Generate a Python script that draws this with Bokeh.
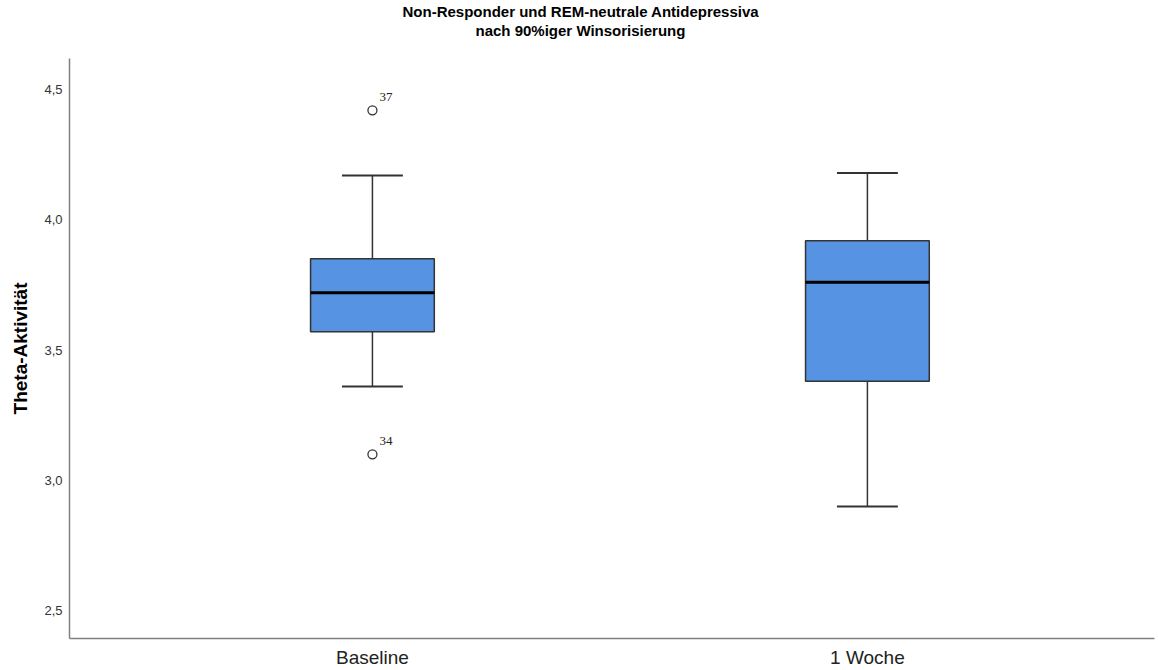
from bokeh.plotting import figure
from bokeh.models import (Title, FixedTicker, CustomJSTickFormatter, ColumnDataSource,
                          Range1d)
from bokeh.embed import file_html
from bokeh.resources import INLINE

# Box plot statistics (Theta-Aktivität) per measurement time
groups = ["Baseline", "1 Woche"]
whisker_low = [3.36, 2.90]
q1 = [3.57, 3.38]
median = [3.72, 3.76]
q3 = [3.85, 3.92]
whisker_high = [4.17, 4.18]

# Outliers: group, value and case number
outlier_group = ["Baseline", "Baseline"]
outlier_values = [4.42, 3.10]
outlier_ids = ["37", "34"]

y_ticks = [2.5, 3.0, 3.5, 4.0, 4.5]

pos = [i + 1 for i in range(len(groups))]
box_width = 0.25
cap_width = 0.123

box_src = ColumnDataSource(dict(
    x=pos, lo=whisker_low, q1=q1, med=median, q3=q3, hi=whisker_high,
    x0=[p - box_width / 2 for p in pos], x1=[p + box_width / 2 for p in pos],
    c0=[p - cap_width / 2 for p in pos], c1=[p + cap_width / 2 for p in pos],
))
out_src = ColumnDataSource(dict(
    x=[pos[groups.index(g)] for g in outlier_group],
    y=outlier_values, label=outlier_ids,
))

p = figure(width=1158, height=670, output_backend="svg", toolbar_location=None,
           title=None,
           x_range=Range1d(0.388, 2.58), y_range=Range1d(2.393, 4.619),
           min_border_left=69, min_border_right=4, min_border_top=58,
           min_border_bottom=31)
p.outline_line_color = None
p.xgrid.visible = False
p.ygrid.visible = False
p.background_fill_color = "white"
p.border_fill_color = "white"

edge = "#333333"
# whiskers
p.segment(x0="x", y0="q3", x1="x", y1="hi", source=box_src, line_color=edge, line_width=1.5)
p.segment(x0="x", y0="lo", x1="x", y1="q1", source=box_src, line_color=edge, line_width=1.5)
p.segment(x0="c0", y0="hi", x1="c1", y1="hi", source=box_src, line_color=edge, line_width=2)
p.segment(x0="c0", y0="lo", x1="c1", y1="lo", source=box_src, line_color=edge, line_width=2)
# boxes
p.vbar(x="x", width=box_width, bottom="q1", top="q3", source=box_src,
       fill_color="#5694E3", line_color=edge, line_width=1.5)
# medians
p.segment(x0="x0", y0="med", x1="x1", y1="med", source=box_src, line_color="black", line_width=3)

# outliers with case numbers
p.scatter(x="x", y="y", source=out_src, marker="circle", size=9,
          fill_color=None, line_color=edge, line_width=1.3)
p.text(x="x", y="y", text="label", source=out_src, x_offset=7, y_offset=-9,
       text_font_size="13px", text_color="#222222", text_baseline="bottom",
       text_align="left", text_font="Liberation Sans")

# axes
ax_col = "#808080"
p.yaxis.ticker = FixedTicker(ticks=y_ticks)
p.yaxis.formatter = CustomJSTickFormatter(code="return tick.toFixed(1).replace('.', ',');")
p.yaxis.axis_label = "Theta-Aktivität"
p.yaxis.axis_label_text_font = "Liberation Sans"
p.yaxis.axis_label_text_font_style = "bold"
p.yaxis.axis_label_text_font_size = "19px"
p.yaxis.axis_label_text_color = "black"
p.yaxis.axis_label_standoff = 10
p.yaxis.major_label_text_font = "Liberation Sans"
p.yaxis.major_label_text_font_size = "13px"
p.yaxis.major_label_text_color = "#333333"
p.yaxis.major_label_standoff = 7

p.xaxis.ticker = FixedTicker(ticks=pos)
p.xaxis.major_label_overrides = {pp: g for pp, g in zip(pos, groups)}
p.xaxis.major_label_text_font = "Liberation Sans"
p.xaxis.major_label_text_font_size = "19px"
p.xaxis.major_label_text_color = "#222222"
p.xaxis.major_label_standoff = 8

for ax in (p.xaxis[0], p.yaxis[0]):
    ax.axis_line_color = ax_col
    ax.axis_line_width = 1.5
    ax.major_tick_line_color = None
    ax.minor_tick_line_color = None
    ax.major_tick_out = 0
    ax.major_tick_in = 0
    ax.minor_tick_out = 0
    ax.minor_tick_in = 0

# two-line heading, centred on the page; a tiny blank title keeps a gap above the frame
head_style = dict(align="left", text_font="Liberation Sans", text_font_size="15px",
                  text_color="black", text_font_style="bold", standoff=0)
p.add_layout(Title(text=" ", text_font_size="1px", standoff=17), "above")
p.add_layout(Title(text="nach 90%iger Winsorisierung", offset=406, **head_style), "above")
p.add_layout(Title(text="Non-Responder und REM-neutrale Antidepressiva", offset=333,
                   **head_style), "above")

open("out.html", "w").write(file_html(p, INLINE))
